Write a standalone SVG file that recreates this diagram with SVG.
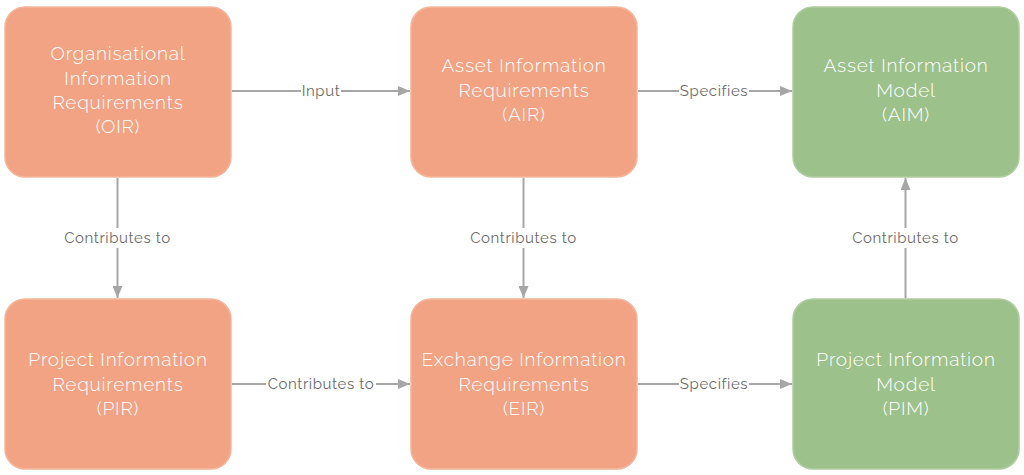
<svg xmlns="http://www.w3.org/2000/svg" width="1024" height="475" viewBox="0 0 1024 475">
<defs>
<style>
.box{stroke-width:1.5}
.o{fill:#F1A383;stroke:#F4B59A}
.g{fill:#9CC18A;stroke:#AECDA0}
.t{font-family:"Raleway","Lato","Open Sans",sans-serif;font-weight:300;font-size:19px;letter-spacing:0.8px;fill:#ffffff;text-anchor:middle}
.c{stroke:#A6A6A6;stroke-width:2;fill:none}
.l{font-family:"Raleway","Lato","Open Sans",sans-serif;font-weight:400;font-size:15px;letter-spacing:0.6px;fill:#6b6b6b;text-anchor:middle}
.bg{fill:#ffffff}
</style>
<marker id="ah" markerWidth="12" markerHeight="10" refX="12" refY="5" orient="auto" markerUnits="userSpaceOnUse">
<path d="M0,0 L12,5 L0,10 Z" fill="#A6A6A6"/>
</marker>
</defs>
<rect width="1024" height="475" fill="#ffffff"/>
<g id="connectors">
<line class="c" x1="232" y1="91" x2="410" y2="91" marker-end="url(#ah)"/>
<rect class="bg" x="301" y="82" width="40" height="18"/>
<text class="l" x="321" y="96">Input</text>
<line class="c" x1="638" y1="91" x2="792" y2="91" marker-end="url(#ah)"/>
<rect class="bg" x="679" y="82" width="70" height="18"/>
<text class="l" x="714" y="96">Specifies</text>
<line class="c" x1="117.5" y1="178" x2="117.5" y2="298" marker-end="url(#ah)"/>
<rect class="bg" x="62" y="228" width="112" height="20"/>
<text class="l" x="117.5" y="243">Contributes to</text>
<line class="c" x1="523.5" y1="178" x2="523.5" y2="298" marker-end="url(#ah)"/>
<rect class="bg" x="468" y="228" width="112" height="20"/>
<text class="l" x="523.5" y="243">Contributes to</text>
<line class="c" x1="905.5" y1="298" x2="905.5" y2="178" marker-end="url(#ah)"/>
<rect class="bg" x="850" y="228" width="112" height="20"/>
<text class="l" x="905.5" y="243">Contributes to</text>
<line class="c" x1="232" y1="384" x2="410" y2="384" marker-end="url(#ah)"/>
<rect class="bg" x="266" y="375" width="110" height="18"/>
<text class="l" x="321" y="389">Contributes to</text>
<line class="c" x1="638" y1="384" x2="792" y2="384" marker-end="url(#ah)"/>
<rect class="bg" x="679" y="375" width="70" height="18"/>
<text class="l" x="714" y="389">Specifies</text>
</g>
<g id="oir">
<rect class="box o" x="5" y="7" width="226" height="170" rx="20"/>
<text class="t" x="118" y="60">Organisational</text>
<text class="t" x="118" y="85">Information</text>
<text class="t" x="118" y="109">Requirements</text>
<text class="t" x="118" y="133">(OIR)</text>
</g>
<g id="air">
<rect class="box o" x="411" y="7" width="226" height="170" rx="20"/>
<text class="t" x="524" y="72">Asset Information</text>
<text class="t" x="524" y="97">Requirements</text>
<text class="t" x="524" y="121">(AIR)</text>
</g>
<g id="aim">
<rect class="box g" x="793" y="7" width="226" height="170" rx="20"/>
<text class="t" x="906" y="72">Asset Information</text>
<text class="t" x="906" y="97">Model</text>
<text class="t" x="906" y="121">(AIM)</text>
</g>
<g id="pir">
<rect class="box o" x="5" y="299" width="226" height="170" rx="20"/>
<text class="t" x="118" y="366">Project Information</text>
<text class="t" x="118" y="391">Requirements</text>
<text class="t" x="118" y="415">(PIR)</text>
</g>
<g id="eir">
<rect class="box o" x="411" y="299" width="226" height="170" rx="20"/>
<text class="t" x="524" y="366">Exchange Information</text>
<text class="t" x="524" y="391">Requirements</text>
<text class="t" x="524" y="415">(EIR)</text>
</g>
<g id="pim">
<rect class="box g" x="793" y="299" width="226" height="170" rx="20"/>
<text class="t" x="906" y="366">Project Information</text>
<text class="t" x="906" y="391">Model</text>
<text class="t" x="906" y="415">(PIM)</text>
</g>
</svg>
